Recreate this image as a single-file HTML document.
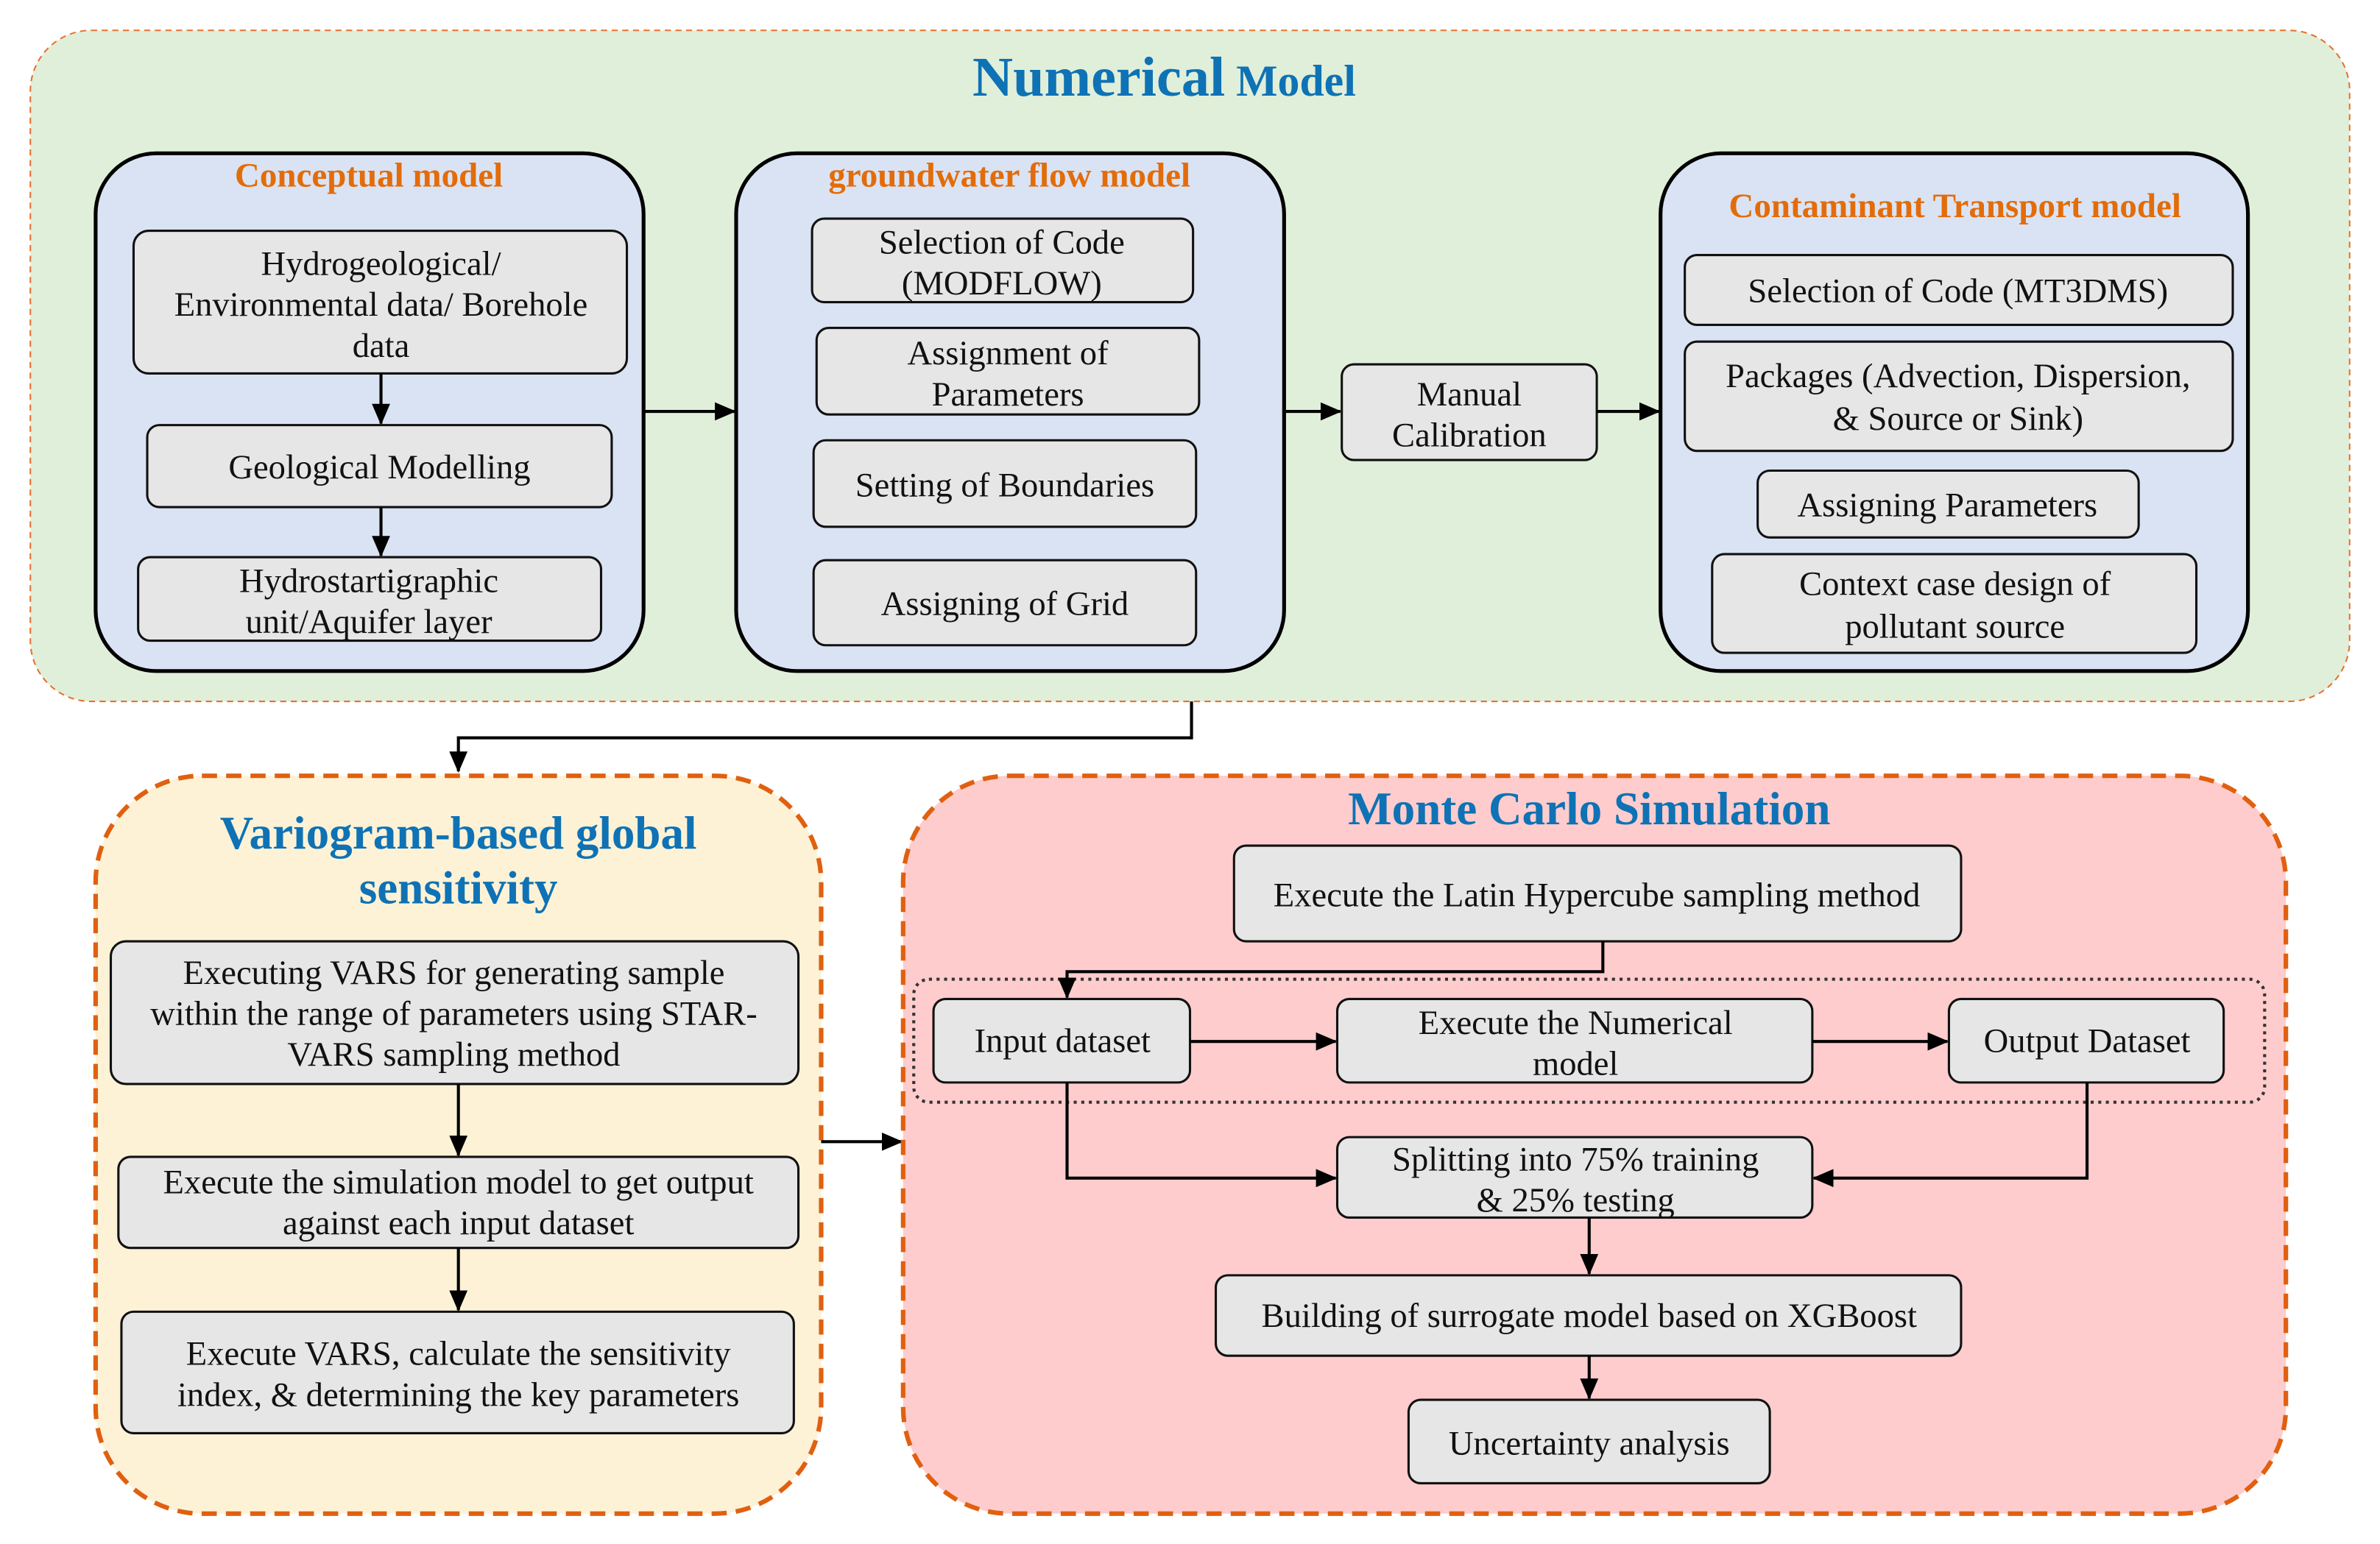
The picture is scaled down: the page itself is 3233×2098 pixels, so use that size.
<!DOCTYPE html>
<html><head><meta charset="utf-8"><style>
html,body{margin:0;padding:0;background:#fff;}
svg{display:block;}
text{font-family:"Liberation Serif",serif;}
.t{font-size:22.6px;fill:#111;text-anchor:middle;}
.h{font-size:22.8px;font-weight:bold;fill:#e36c0a;text-anchor:middle;}
.b{font-size:30.6px;font-weight:bold;fill:#0e72b5;text-anchor:middle;}
.ib{fill:#e7e6e6;stroke:#111;stroke-width:1.5;}
.big{fill:#dae3f3;stroke:#000;stroke-width:2.5;}
.ln{stroke:#000;stroke-width:2;fill:none;}
</style></head><body>
<svg width="3233" height="2098" viewBox="0 0 1568 1017" preserveAspectRatio="none" xmlns="http://www.w3.org/2000/svg">
<defs>
<marker id="a2" markerWidth="14" markerHeight="12" refX="13" refY="6" orient="auto" markerUnits="userSpaceOnUse"><path d="M0,0 L14,6 L0,12 z" fill="#000"/></marker></defs>

<rect x="20" y="20" width="1528" height="442" rx="40" fill="#e0efd9" stroke="#e87030" stroke-width="1" stroke-dasharray="4,3"/>
<text x="767" y="63" text-anchor="middle" font-weight="bold" fill="#0e72b5"><tspan font-size="37">Numerical</tspan><tspan font-size="29"> Model</tspan></text>

<rect class="big" x="63" y="101" width="361" height="341" rx="40"/>
<text class="h" x="243" y="123">Conceptual model</text>
<rect class="ib" x="88" y="152" width="325" height="94" rx="10"/>
<text class="t" x="251" y="181">Hydrogeological/</text><text class="t" x="251" y="208">Environmental data/ Borehole</text><text class="t" x="251" y="235">data</text>
<rect class="ib" x="97" y="280" width="306" height="54" rx="8"/>
<text class="t" x="250" y="315">Geological Modelling</text>
<rect class="ib" x="91" y="367" width="305" height="55" rx="8"/>
<text class="t" x="243" y="390">Hydrostartigraphic</text><text class="t" x="243" y="417">unit/Aquifer layer</text>
<line class="ln" x1="251" y1="246" x2="251" y2="279" marker-end="url(#a2)"/>
<line class="ln" x1="251" y1="334" x2="251" y2="366" marker-end="url(#a2)"/>

<rect class="big" x="485" y="101" width="361" height="341" rx="40"/>
<text class="h" x="665" y="123">groundwater flow model</text>
<rect class="ib" x="535" y="144" width="251" height="55" rx="8"/>
<text class="t" x="660" y="167">Selection of Code</text><text class="t" x="660" y="194">(MODFLOW)</text>
<rect class="ib" x="538" y="216" width="252" height="57" rx="8"/>
<text class="t" x="664" y="240">Assignment of</text><text class="t" x="664" y="267">Parameters</text>
<rect class="ib" x="536" y="290" width="252" height="57" rx="8"/>
<text class="t" x="662" y="327">Setting of Boundaries</text>
<rect class="ib" x="536" y="369" width="252" height="56" rx="8"/>
<text class="t" x="662" y="405">Assigning of Grid</text>
<line class="ln" x1="424" y1="271" x2="484" y2="271" marker-end="url(#a2)"/>
<line class="ln" x1="846" y1="271" x2="883" y2="271" marker-end="url(#a2)"/>
<rect class="ib" x="884" y="240" width="168" height="63" rx="8"/>
<text class="t" x="968" y="267">Manual</text><text class="t" x="968" y="294">Calibration</text>
<line class="ln" x1="1052" y1="271" x2="1093" y2="271" marker-end="url(#a2)" stroke-width="3"/>

<rect class="big" x="1094" y="101" width="387" height="341" rx="40"/>
<text class="h" x="1288" y="143">Contaminant Transport model</text>
<rect class="ib" x="1110" y="168" width="361" height="46" rx="8"/>
<text class="t" x="1290" y="199">Selection of Code (MT3DMS)</text>
<rect class="ib" x="1110" y="225" width="361" height="72" rx="8"/>
<text class="t" x="1290" y="255">Packages (Advection, Dispersion,</text><text class="t" x="1290" y="283">&amp; Source or Sink)</text>
<rect class="ib" x="1158" y="310" width="251" height="44" rx="8"/>
<text class="t" x="1283" y="340">Assigning Parameters</text>
<rect class="ib" x="1128" y="365" width="319" height="65" rx="8"/>
<text class="t" x="1288" y="392">Context case design of</text><text class="t" x="1288" y="420">pollutant source</text>

<polyline class="ln" points="785,462 785,486 302,486 302,508" marker-end="url(#a2)"/>

<rect x="63" y="511" width="478" height="486" rx="70" fill="#fdf2d6" stroke="#e06010" stroke-width="3" stroke-dasharray="10,6"/>
<text class="b" x="302" y="559">Variogram-based global</text><text class="b" x="302" y="595">sensitivity</text>
<rect class="ib" x="73" y="620" width="453" height="94" rx="10"/>
<text class="t" x="299" y="648">Executing VARS for generating sample</text><text class="t" x="299" y="675">within the range of parameters using STAR-</text><text class="t" x="299" y="702">VARS sampling method</text>
<rect class="ib" x="78" y="762" width="448" height="60" rx="8"/>
<text class="t" x="302" y="786">Execute the simulation model to get output</text><text class="t" x="302" y="813">against each input dataset</text>
<rect class="ib" x="80" y="864" width="443" height="80" rx="8"/>
<text class="t" x="302" y="899">Execute VARS, calculate the sensitivity</text><text class="t" x="302" y="926">index, &amp; determining the key parameters</text>
<line class="ln" x1="302" y1="714" x2="302" y2="761" marker-end="url(#a2)"/>
<line class="ln" x1="302" y1="822" x2="302" y2="863" marker-end="url(#a2)"/>
<line class="ln" x1="541" y1="752" x2="594" y2="752" marker-end="url(#a2)"/>

<rect x="595" y="511" width="911" height="486" rx="70" fill="#fecccc" stroke="#e06010" stroke-width="3" stroke-dasharray="10,6"/>
<text class="b" x="1047" y="543">Monte Carlo Simulation</text>
<rect class="ib" x="813" y="557" width="479" height="63" rx="8"/>
<text class="t" x="1052" y="597">Execute the Latin Hypercube sampling method</text>
<rect x="602" y="645" width="890" height="81" rx="10" fill="none" stroke="#333" stroke-width="2" stroke-dasharray="2,3"/>
<rect class="ib" x="615" y="658" width="169" height="55" rx="8"/>
<text class="t" x="700" y="693">Input dataset</text>
<rect class="ib" x="881" y="658" width="313" height="55" rx="8"/>
<text class="t" x="1038" y="681">Execute the Numerical</text><text class="t" x="1038" y="708">model</text>
<rect class="ib" x="1284" y="658" width="181" height="55" rx="8"/>
<text class="t" x="1375" y="693">Output Dataset</text>
<rect class="ib" x="881" y="749" width="313" height="53" rx="8"/>
<text class="t" x="1038" y="771">Splitting into 75% training</text><text class="t" x="1038" y="798">&amp; 25% testing</text>
<rect class="ib" x="801" y="840" width="491" height="53" rx="8"/>
<text class="t" x="1047" y="874">Building of surrogate model based on XGBoost</text>
<rect class="ib" x="928" y="922" width="238" height="55" rx="8"/>
<text class="t" x="1047" y="958">Uncertainty analysis</text>
<polyline class="ln" points="1056,620 1056,640 703,640 703,657" marker-end="url(#a2)"/>
<line class="ln" x1="784" y1="686" x2="880" y2="686" marker-end="url(#a2)"/>
<line class="ln" x1="1194" y1="686" x2="1283" y2="686" marker-end="url(#a2)"/>
<polyline class="ln" points="703,713 703,776 880,776" marker-end="url(#a2)"/>
<polyline class="ln" points="1375,713 1375,776 1195,776" marker-end="url(#a2)"/>
<line class="ln" x1="1047" y1="802" x2="1047" y2="839" marker-end="url(#a2)"/>
<line class="ln" x1="1047" y1="893" x2="1047" y2="921" marker-end="url(#a2)"/>
</svg>
</body></html>
